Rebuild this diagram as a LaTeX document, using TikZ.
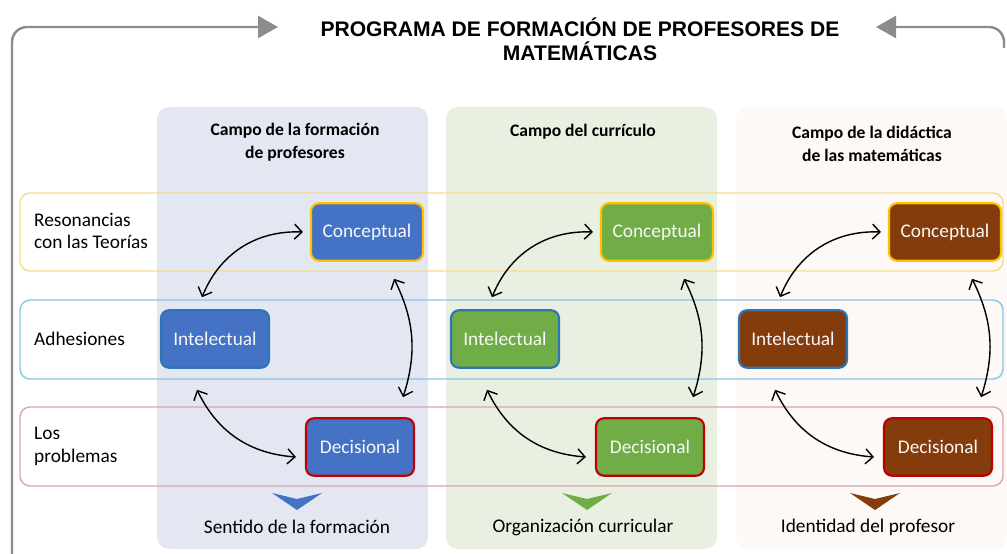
\documentclass[tikz,border=0pt]{standalone}
\usepackage{fontspec}
\setmainfont{Carlito}
\newfontfamily\titlefont{Liberation Sans}
\usetikzlibrary{calc, arrows.meta}

\definecolor{campoA}{HTML}{E2E7F2}
\definecolor{campoB}{HTML}{E9F0E2}
\definecolor{campoC}{HTML}{FDF9F6}
\definecolor{azul}{HTML}{4472C4}
\definecolor{verde}{HTML}{70AD47}
\definecolor{cafe}{HTML}{843C0C}
\definecolor{oro}{HTML}{FFC000}
\definecolor{rojo}{HTML}{C00000}
\definecolor{celeste}{HTML}{2E75B6}
\definecolor{marco}{HTML}{8C8C8C}
\definecolor{filaA}{HTML}{F3DC8C}
\definecolor{filaB}{HTML}{8DC3E3}
\definecolor{filaC}{HTML}{D9A5B3}

\tikzset{
	caja/.style = {rounded corners=0.16cm, line width=1.2pt, text=white!94!gray,
		minimum width=2.16cm, minimum height=1.15cm, font=\fontsize{11}{13}\selectfont},
	fila/.style = {rounded corners=0.2cm, line width=0.8pt},
	etiqueta/.style = {anchor=west, align=left, font=\fontsize{11}{13}\selectfont},
	campo/.style = {align=center, font=\bfseries\fontsize{10}{13}\selectfont},
	sentido/.style = {font=\fontsize{11}{13}\selectfont}
}

\begin{document}
\begin{tikzpicture}[x=0.02cm, y=-0.02cm]
		\useasboundingbox (0,0) rectangle (1007,554);
		
		% los tres campos
		\foreach \c/\dx/\fondo in {1/0/campoA, 2/289/campoB, 3/579/campoC}
			\fill[\fondo, rounded corners=0.24cm] (157+\dx,107) rectangle (428+\dx,549);
		
		\node[font=\titlefont\bfseries\fontsize{12}{13.6}\selectfont, align=center] (titulo) at (580,39)
			{PROGRAMA DE FORMACIÓN DE PROFESORES DE\\MATEMÁTICAS};
		
		\coordinate (punta izq) at (278,27);
		\coordinate (punta der) at (876,27);
		\begin{scope}[marco, line width=1.4pt, rounded corners=0.3cm]
			\draw[-{Triangle[length=0.4cm, width=0.44cm]}] (12,560) |- (punta izq);
			\draw[-{Triangle[length=0.4cm, width=0.44cm]}] (1004,48) |- (punta der);
		\end{scope}
		
		\node[campo] (campo1) at (295,142) {Campo de la formación\\de profesores};
		\node[campo] (campo2) at (583,132) {Campo del currículo};
		\node[campo] (campo3) at (872,144) {Campo de la didáctica\\de las matemáticas};
		
		% filas
		\draw[fila, filaA] (20,193) rectangle (1003,271);
		\draw[fila, filaB] (20,300) rectangle (1003,379);
		\draw[fila, filaC] (20,407) rectangle (1003,486);
		\node[etiqueta] (fila1) at (28,231) {Resonancias\\con las Teorías};
		\node[etiqueta] (fila2) at (28,339) {Adhesiones};
		\node[etiqueta] (fila3) at (28,446) {Los\\problemas};
		
		\foreach \c/\dx/\col in {1/0/azul, 2/290/verde, 3/578/cafe} {
			\node[caja, fill=\col, draw=oro, minimum width=2.24cm] (con\c) at (367+\dx,232) {Conceptual};
			\node[caja, fill=\col, draw=celeste] (int\c) at (215+\dx,339) {Intelectual};
			\node[caja, fill=\col, draw=rojo] (dec\c) at (360+\dx,447) {Decisional};
			
			\begin{scope}[{Straight Barb[length=1.5mm, width=3mm]}-{Straight Barb[length=1.5mm, width=3mm]}, line width=0.8pt]
				\draw ([shift={(-13,-12)}]int\c.north) to[bend left=35] ([shift={(-7,0)}]con\c.west);
				\draw ([shift={(-30,17)}]con\c.south east) to[bend left=22] ([shift={(-12,-20)}]dec\c.north east);
				\draw ([shift={(-18,21)}]int\c.south) to[bend right=30] ([shift={(-9,10)}]dec\c.west);
			\end{scope}
			
			\fill[\col] (272+\dx,493) -- (297+\dx,499) -- (322+\dx,493) -- (297+\dx,510) -- cycle;
		}
		
		\node[sentido] (sentido1) at (297,527) {Sentido de la formación};
		\node[sentido] (sentido2) at (583,527) {Organización curricular};
		\node[sentido] (sentido3) at (868,527) {Identidad del profesor};
	\end{tikzpicture}
\end{document}
